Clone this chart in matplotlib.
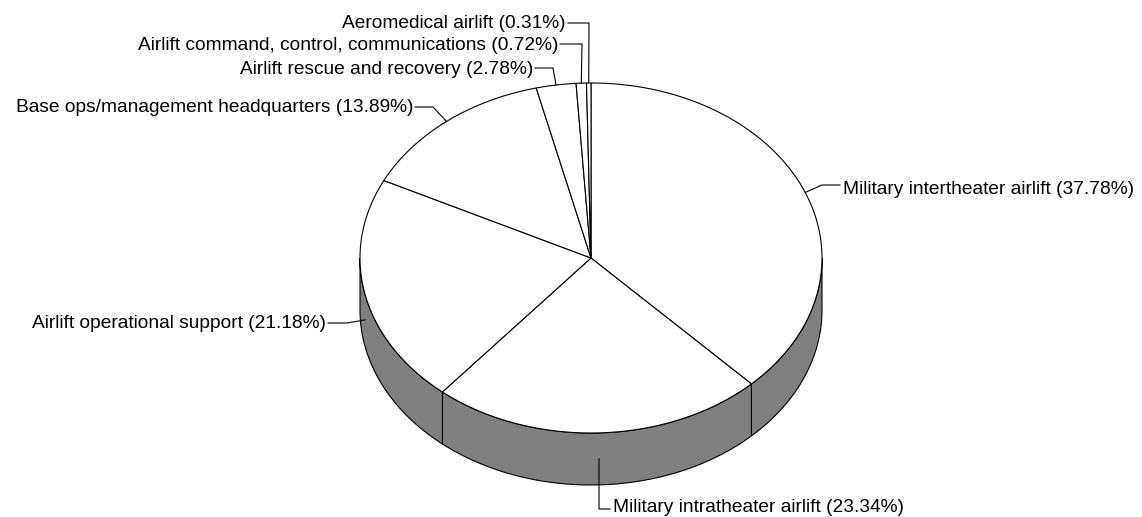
import numpy as np
import matplotlib
matplotlib.use("Agg")
import matplotlib.pyplot as plt
from matplotlib.patches import Polygon

labels = ["Military intertheater airlift", "Military intratheater airlift",
          "Airlift operational support", "Base ops/management headquarters",
          "Airlift rescue and recovery", "Airlift command, control, communications",
          "Aeromedical airlift"]
values = [37.78, 23.34, 21.18, 13.89, 2.78, 0.72, 0.31]

# layout (pixel space)
W, H = 1142, 517
cx, cy, rx, ry, depth = 591, 258, 231, 175, 52
# label placement: (text x, text y, ha, elbow x, elbow y)
label_pos = [
    (843, 189, "left", 822, 185),
    (613, 507, "left", 599, 509),
    (326, 324, "right", 347, 323),
    (413, 108, "right", 433, 107),
    (533, 69, "right", 553, 68),
    (558, 45, "right", 582, 44),
    (566, 24, "right", 589, 23),
]

fig = plt.figure(figsize=(W / 100, H / 100), dpi=100)
ax = fig.add_axes([0, 0, 1, 1])
ax.set_xlim(0, W)
ax.set_ylim(H, 0)
ax.axis("off")

def pt(t, off=0.0):
    return cx + rx * np.cos(np.radians(t)), cy - ry * np.sin(np.radians(t)) + off

total = sum(values)
angles = [90.0]
for v in values:
    angles.append(angles[-1] - 360.0 * v / total)

lw = 0.8
# sides (front half: angles between -180 and 0)
for i in range(len(values)):
    a0, a1 = angles[i], angles[i + 1]  # a0 > a1
    s0, s1 = min(a0, 0.0), max(a1, -180.0)
    if s0 <= s1:
        continue
    ts = np.linspace(s0, s1, 100)
    top = [pt(t) for t in ts]
    bot = [pt(t, depth) for t in ts[::-1]]
    ax.add_patch(Polygon(top + bot, closed=True, facecolor="#808080",
                         edgecolor="black", linewidth=lw, zorder=1))

# top faces
for i in range(len(values)):
    a0, a1 = angles[i], angles[i + 1]
    ts = np.linspace(a0, a1, max(3, int(abs(a0 - a1) * 2)))
    verts = [(cx, cy)] + [pt(t) for t in ts]
    ax.add_patch(Polygon(verts, closed=True, facecolor="white",
                         edgecolor="black", linewidth=lw, zorder=2))

# labels and leaders
for i, (lab, v) in enumerate(zip(labels, values)):
    mid = (angles[i] + angles[i + 1]) / 2
    mx, my = pt(mid)
    if -180 < mid < 0:
        my += depth / 2
    tx, ty, ha, ex, ey = label_pos[i]
    lx = tx + 2 if ha == "right" else tx - 3
    ax.plot([mx, ex, lx], [my, ey, ey], color="black", linewidth=lw, zorder=3)
    ax.text(tx, ty, f"{lab} ({v:.2f}%)", ha=ha, va="center",
            fontsize=13.8, family="Liberation Sans", color="black")

fig.savefig("out.png", dpi=100)
